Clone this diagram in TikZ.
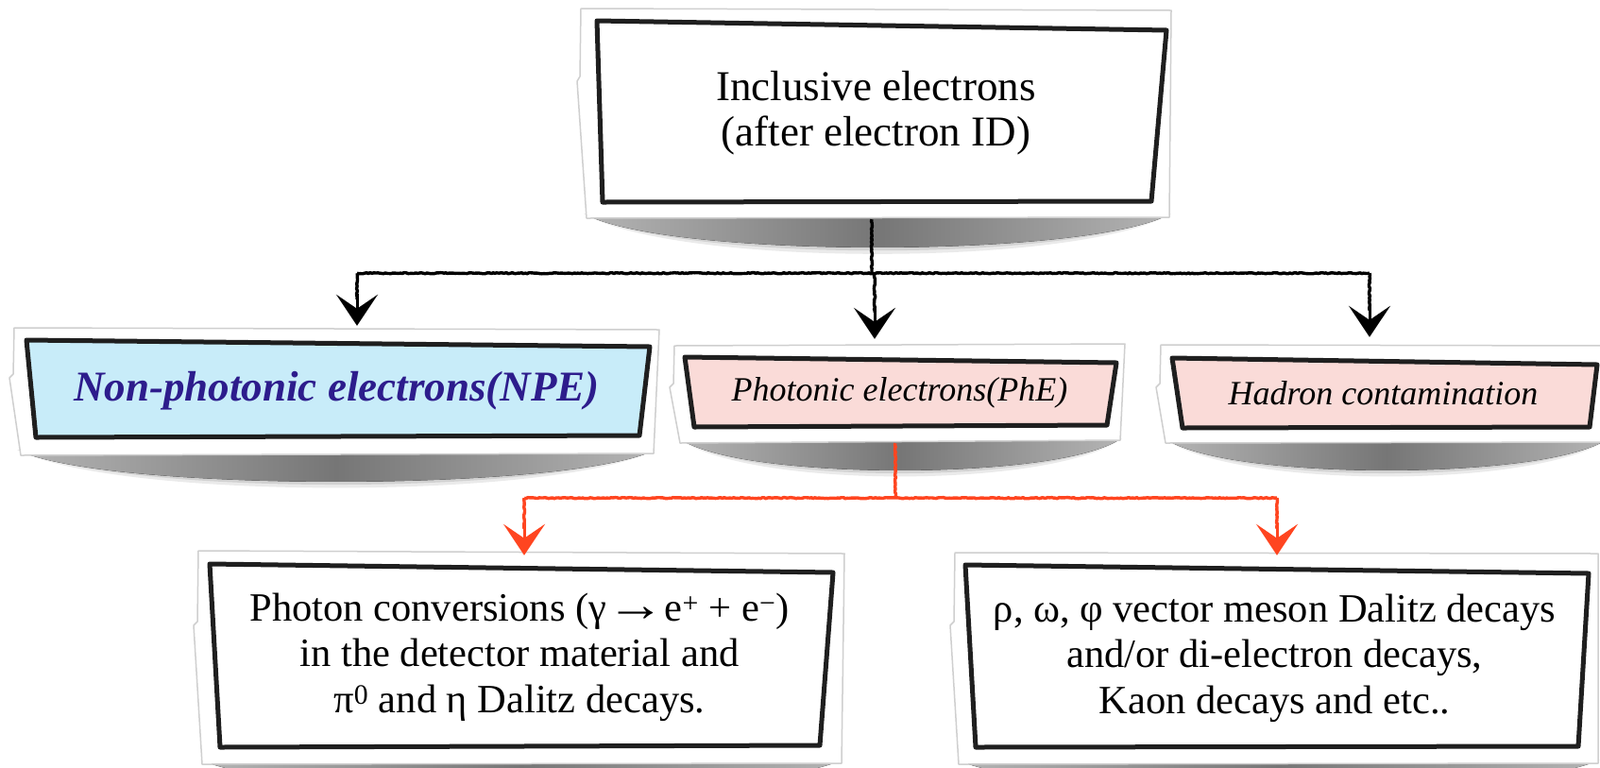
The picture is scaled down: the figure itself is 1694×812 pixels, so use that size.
\documentclass[tikz,border=0pt]{standalone}
\usepackage{fontspec}
\setmainfont{Liberation Serif}
\usetikzlibrary{arrows.meta,decorations.pathmorphing,calc}
\definecolor{ink}{HTML}{1F1F1F}
\definecolor{framegray}{HTML}{CFCFCF}
\definecolor{npefill}{HTML}{C8ECF9}
\definecolor{npetext}{HTML}{2D1C8C}
\definecolor{pinkfill}{HTML}{FADBD8}
\definecolor{arrred}{HTML}{FF4520}
\definecolor{shadedge}{HTML}{B4B4B4}
\definecolor{shadmid}{HTML}{767676}
\newcommand\myshadow[4]{%
  \fill[black!45, opacity=0.18] ({#1-4},{#3-2}) .. controls ({#1+0.15*(#2-#1)},{#3+1.62*#4}) and ({#2-0.15*(#2-#1)},{#3+1.62*#4}) .. ({#2+4},{#3-2}) -- cycle;
  \fill[black!45, opacity=0.25] ({#1-2},{#3-2}) .. controls ({#1+0.15*(#2-#1)},{#3+1.48*#4}) and ({#2-0.15*(#2-#1)},{#3+1.48*#4}) .. ({#2+2},{#3-2}) -- cycle;
  \fill[left color=shadedge, right color=shadedge, middle color=shadmid] (#1,#3) .. controls ({#1+0.15*(#2-#1)},{#3+1.33*#4}) and ({#2-0.15*(#2-#1)},{#3+1.33*#4}) .. (#2,#3) -- cycle;
}
\begin{document}
\begin{tikzpicture}[x=1pt,y=-1pt,
  outerframe/.style={fill=white, draw=framegray, line width=1.5pt, line join=round},
  innerbox/.style={draw=ink, line width=5pt, line join=round},
  boxnode/.style={draw=none, inner sep=0pt, align=center},
  blk/.style={draw=black, line width=3.4pt, line join=round, decorate, decoration={random steps,segment length=2pt,amplitude=0.6pt}},
  redl/.style={blk, draw=arrred},
  tipblk/.style={-{Stealth[length=33pt,width=44pt,inset=15pt]}, line width=3pt, draw=black, fill=black},
  tipred/.style={tipblk, draw=arrred, fill=arrred},
]
\useasboundingbox (0,0) rectangle (1694,812);
\clip (0,0) rectangle (1694,812);
\fill[white] (0,0) rectangle (1694,812);

% shadows
\myshadow{622}{1236}{228}{34}
\myshadow{22}{690}{478}{32}
\myshadow{722}{1184}{466}{32}
\myshadow{1236}{1700}{466}{32}
\myshadow{216}{888}{806}{30}
\myshadow{1017}{1690}{806}{30}

% top box
\draw[outerframe] (615,9) -- (1240,11) -- (1238,230) -- (621,231) -- (611,86) -- (614,81) -- cycle;
\draw[innerbox, fill=white] (632,22) -- (1235,32) -- (1219,213) -- (638,214) -- cycle;
% NPE
\draw[outerframe] (15,347) -- (698,349) -- (692,480) -- (22,482) -- (10,400) -- (14,396) -- cycle;
\draw[innerbox, fill=npefill] (28,360) -- (688,367) -- (677,461) -- (38,463) -- cycle;
% PhE
\draw[outerframe] (714,366) -- (1191,364) -- (1186,466) -- (720,469) -- (709,410) -- (713,406) -- cycle;
\draw[innerbox, fill=pinkfill] (725,378) -- (1182,384) -- (1172,450) -- (735,452) -- cycle;
% Hadron
\draw[outerframe] (1229,365) -- (1702,366) -- (1702,468) -- (1234,469) -- (1224,410) -- (1228,406) -- cycle;
\draw[innerbox, fill=pinkfill] (1241,379) -- (1691,386) -- (1683,452) -- (1252,453) -- cycle;
% conversions
\draw[outerframe] (210,583) -- (894,586) -- (891,808) -- (214,809) -- (205,662) -- (209,658) -- cycle;
\draw[innerbox, fill=white] (222,597) -- (882,606) -- (868,789) -- (233,791) -- cycle;
% vector mesons
\draw[outerframe] (1011,585) -- (1692,586) -- (1692,808) -- (1015,809) -- (1006,662) -- (1010,658) -- cycle;
\draw[innerbox, fill=white] (1022,598) -- (1682,607) -- (1671,790) -- (1033,791) -- cycle;

% text nodes
\node[boxnode, minimum width=625pt, minimum height=221pt, font=\fontsize{45}{48}\selectfont] (inc) at (927.5,119.5)
  {Inclusive electrons\\(after electron ID)};
\node[boxnode, minimum width=683pt, minimum height=133pt, text=npetext, font=\fontsize{45}{48}\selectfont\bfseries\itshape] (npe) at (356.5,413.5)
  {Non-photonic electrons(NPE)};
\node[boxnode, minimum width=477pt, minimum height=102pt, font=\fontsize{36}{40}\selectfont\itshape] (phe) at (952.5,416)
  {Photonic electrons(PhE)};
\node[boxnode, minimum width=471pt, minimum height=103pt, font=\fontsize{36}{40}\selectfont\itshape] (had) at (1464.5,416.5)
  {Hadron contamination};
\node[boxnode, minimum width=684pt, minimum height=225pt, font=\fontsize{42.5}{48.5}\selectfont] (conv) at (550,695.5)
  {Photon conversions (γ\scalebox{1.45}[1.2]{→}e\textsuperscript{+} + e\textsuperscript{−})\\in the detector material and\\π\textsuperscript{0} and η Dalitz decays.};
\node[boxnode, minimum width=681pt, minimum height=223pt, font=\fontsize{42.5}{48.5}\selectfont] (vec) at (1349.5,696.5)
  {ρ, ω, φ vector meson Dalitz decays\\and/or di-electron decays,\\Kaon decays and etc..};

% black connectors
\coordinate (bj) at ($(inc.south)+(-4.5,59)$);
\coordinate (tA) at ($(npe.north)+(21.5,-2)$);
\coordinate (tB) at ($(phe.north)+(-26.5,-6)$);
\coordinate (tC) at ($(had.north)+(-14.5,-8)$);
\draw[blk] ($(inc.south)+(-4.5,2)$) -- (bj);
\draw[blk] (bj -| tA) -- (bj -| tC);
\draw[blk] (bj -| tA) -- ($(tA)+(0,-28)$);
\draw[blk] (bj -| tB) -- ($(tB)+(0,-28)$);
\draw[blk] (bj -| tC) -- ($(tC)+(0,-28)$);
\draw[tipblk] ($(tA)+(0,-34)$) -- (tA);
\draw[tipblk] ($(tB)+(0,-34)$) -- (tB);
\draw[tipblk] ($(tC)+(0,-34)$) -- (tC);

% red connectors
\coordinate (rj) at ($(phe.south)+(-4.5,60)$);
\coordinate (tD) at ($(conv.north)+(5,5)$);
\coordinate (tE) at ($(vec.north)+(2.5,3)$);
\draw[redl] ($(phe.south)+(-4.5,2)$) -- (rj);
\draw[redl] (rj -| tD) -- (rj -| tE);
\draw[redl] (rj -| tD) -- ($(tD)+(0,-28)$);
\draw[redl] (rj -| tE) -- ($(tE)+(0,-28)$);
\draw[tipred] ($(tD)+(0,-34)$) -- (tD);
\draw[tipred] ($(tE)+(0,-34)$) -- (tE);
\end{tikzpicture}
\end{document}
